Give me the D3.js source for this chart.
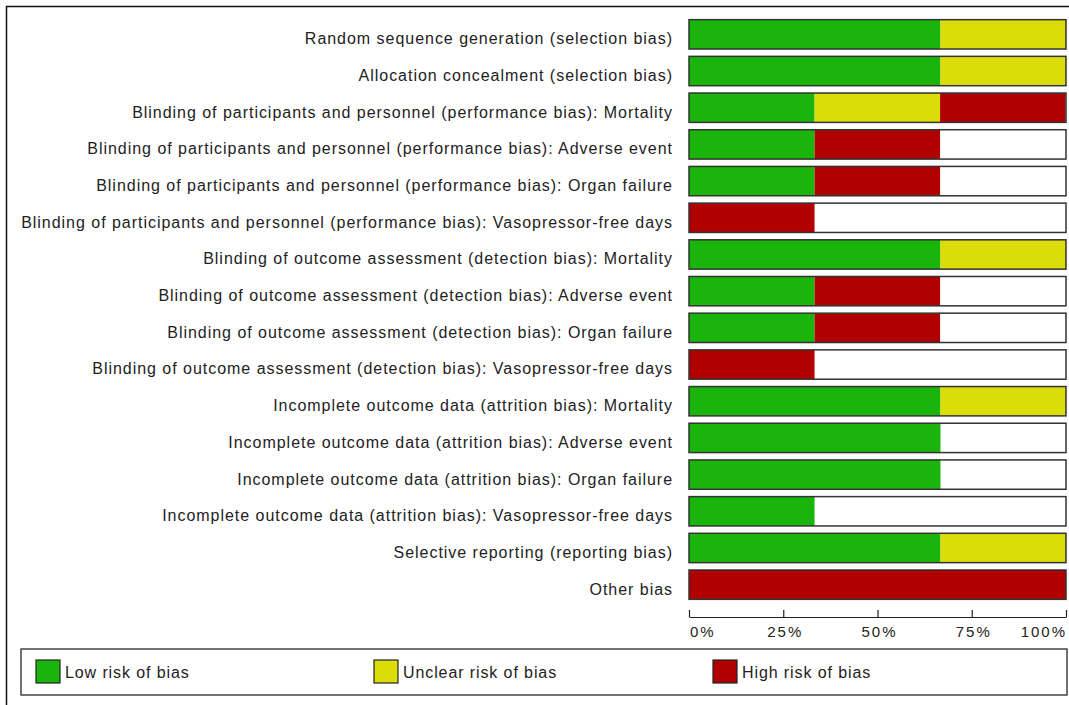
<!DOCTYPE html>
<html><head><meta charset="utf-8">
<script src="https://cdn.jsdelivr.net/npm/d3@7"></script>
<style>body{margin:0;background:#fff}svg{display:block}text{font-family:"Liberation Sans",Arial,sans-serif;fill:#222}</style>
</head><body><svg id="c" width="1069" height="705"></svg>
<script>
const categories = [
 "Random sequence generation (selection bias)",
 "Allocation concealment (selection bias)",
 "Blinding of participants and personnel (performance bias): Mortality",
 "Blinding of participants and personnel (performance bias): Adverse event",
 "Blinding of participants and personnel (performance bias): Organ failure",
 "Blinding of participants and personnel (performance bias): Vasopressor-free days",
 "Blinding of outcome assessment (detection bias): Mortality",
 "Blinding of outcome assessment (detection bias): Adverse event",
 "Blinding of outcome assessment (detection bias): Organ failure",
 "Blinding of outcome assessment (detection bias): Vasopressor-free days",
 "Incomplete outcome data (attrition bias): Mortality",
 "Incomplete outcome data (attrition bias): Adverse event",
 "Incomplete outcome data (attrition bias): Organ failure",
 "Incomplete outcome data (attrition bias): Vasopressor-free days",
 "Selective reporting (reporting bias)",
 "Other bias"
];
const lowRisk     = [66.7,66.7,33.3,33.3,33.3,0,66.7,33.3,33.3,0,66.7,66.7,66.7,33.3,66.7,0];
const unclearRisk = [33.3,33.3,33.3,0,0,0,33.3,0,0,0,33.3,0,0,0,33.3,0];
const highRisk    = [0,0,33.3,33.3,33.3,33.3,0,33.3,33.3,33.3,0,0,0,0,0,100];
const tickValues = [0,25,50,75,100];
const tickLabels = ["0%","25%","50%","75%","100%"];
const legendLabels = ["Low risk of bias","Unclear risk of bias","High risk of bias"];
const colors = ["#1ab50a","#dcdc0a","#b00000"];

const svg = d3.select("#c");
svg.append("rect").attr("x",6.5).attr("y",6.5).attr("width",1100).attr("height",800)
  .attr("fill","none").attr("stroke","#111").attr("stroke-width",1.5);

const x = d3.scaleLinear().domain([0,100]).range([689,1066]);
const y = d3.scaleBand().domain(categories).range([16,603]).paddingInner(0.2).paddingOuter(0.1);

const series = [lowRisk, unclearRisk, highRisk];
const g = svg.append("g");
categories.forEach((c,i)=>{
  const row = g.append("g");
  row.append("rect").attr("x",x(0)).attr("y",y(c)).attr("width",x(100)-x(0)).attr("height",y.bandwidth())
    .attr("fill","#fff");
  let acc = 0;
  series.forEach((s,k)=>{
    const v = s[i];
    if (v>0){
      row.append("rect").attr("x",x(acc)).attr("y",y(c)).attr("width",x(acc+v)-x(acc)).attr("height",y.bandwidth())
        .attr("fill",colors[k]);
    }
    acc += v;
  });
  row.append("rect").attr("x",x(0)).attr("y",y(c)).attr("width",x(100)-x(0)).attr("height",y.bandwidth())
    .attr("fill","none").attr("stroke","#333").attr("stroke-width",1.5);
  row.append("text").attr("x",673).attr("y",y(c)+y.bandwidth()/2).attr("dy","0.62em")
    .attr("text-anchor","end").attr("font-size","16px").attr("letter-spacing","0.97px").text(c);
});

const axis = d3.axisTop(x).tickValues(tickValues).tickFormat(()=>"").tickSize(7).tickSizeOuter(0);
const ag = svg.append("g").attr("transform","translate(0,617)").call(axis);
ag.select(".domain").attr("stroke","#222").attr("stroke-width",1.2);
ag.selectAll(".tick line").attr("stroke","#222").attr("stroke-width",1.2);
svg.append("g").selectAll("text").data(tickValues).join("text")
  .attr("x",(d,i)=> i===0 ? x(d)+1 : (i===tickValues.length-1 ? x(d)+1 : x(d)+2))
  .attr("y",637)
  .attr("text-anchor",(d,i)=> i===0 ? "start" : (i===tickValues.length-1 ? "end" : "middle"))
  .attr("font-size","15px").attr("letter-spacing","2px")
  .text((d,i)=>tickLabels[i]);

svg.append("rect").attr("x",21).attr("y",649).attr("width",1046).attr("height",46)
  .attr("fill","#fff").attr("stroke","#444").attr("stroke-width",1.5);
const legX = [36,374,713];
legendLabels.forEach((l,i)=>{
  svg.append("rect").attr("x",legX[i]).attr("y",660).attr("width",24).attr("height",23)
    .attr("fill",colors[i]).attr("stroke","#222").attr("stroke-width",1.2);
  svg.append("text").attr("x",legX[i]+29).attr("y",672).attr("dy","0.4em")
    .attr("font-size","16px").attr("letter-spacing","0.9px").text(l);
});
</script></body></html>
